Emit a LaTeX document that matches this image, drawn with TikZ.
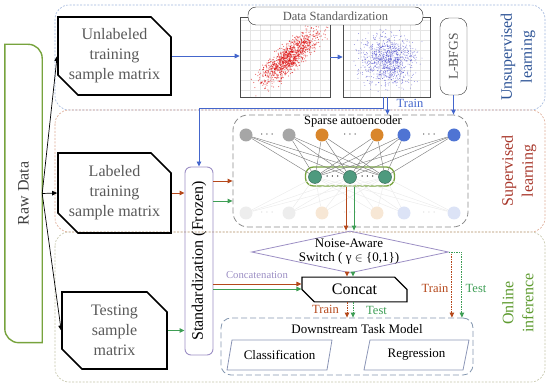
\documentclass[tikz,border=0pt]{standalone}
\usepackage{fontspec}
\setmainfont{Liberation Serif}
\usetikzlibrary{shapes.geometric, shapes.misc, arrows.meta, calc}

\definecolor{rawgreen}{HTML}{77A33D}
\definecolor{unsupblue}{HTML}{2F5597}
\definecolor{regblue}{HTML}{9FB4DC}
\definecolor{regred}{HTML}{DDA993}
\definecolor{regolive}{HTML}{C4C4A8}
\definecolor{arrblue}{HTML}{4466CC}
\definecolor{arrred}{HTML}{B5481B}
\definecolor{arrgreen}{HTML}{3E9E55}
\definecolor{supred}{HTML}{A8382C}
\definecolor{onlgreen}{HTML}{5E9B30}
\definecolor{frzpurple}{HTML}{9C8FC4}
\definecolor{txtgrey}{HTML}{595959}
\definecolor{nodegrey}{HTML}{A6A6A6}
\definecolor{nodeorange}{HTML}{D9862B}
\definecolor{nodeblue}{HTML}{4F74D3}
\definecolor{hidgreen}{HTML}{4E9A7E}
\definecolor{taskblue}{HTML}{8497B0}
\definecolor{scblue}{HTML}{3C3CC8}

\tikzset{
  region/.style={rounded corners=14pt, dash pattern=on 2pt off 1.5pt, line width=0.6pt},
  regionlabel/.style={rotate=90, align=center, font=\fontsize{16}{20}\selectfont},
  rawbox/.style={minimum width=37pt, minimum height=298pt, inner sep=0pt, text=black!75,
    font=\fontsize{16}{20}\selectfont},
  rawline/.style={draw=rawgreen, line width=1.4pt},
  matrixbox/.style={chamfered rectangle, chamfered rectangle corners={north east,south west},
    chamfered rectangle xsep=10pt, chamfered rectangle ysep=10pt, draw=black, line width=1.6pt,
    minimum width=105pt, minimum height=78pt, align=center, text=txtgrey, inner sep=1pt,
    font=\fontsize{16}{20}\selectfont},
  scatterbox/.style={draw=black!70, line width=0.6pt, minimum width=90pt, minimum height=80pt, inner sep=0pt},
  gridline/.style={draw=black!10, line width=0.3pt},
  dstdbox/.style={draw=black!85, fill=white, rounded corners=8pt, minimum width=175pt, minimum height=18pt,
    inner sep=0pt, text=txtgrey, font=\fontsize{12.5}{14}\selectfont},
  lbfgsbox/.style={draw=black!80, rounded corners=9pt, minimum width=27pt, minimum height=77pt,
    inner sep=0pt, text=txtgrey, font=\fontsize{13.5}{15}\selectfont},
  stdbox/.style={draw=frzpurple, line width=0.9pt, rounded corners=6pt, minimum width=28pt,
    minimum height=188pt, inner sep=0pt, font=\fontsize{16}{20}\selectfont},
  saebox/.style={draw=black!45, dash pattern=on 6pt off 3pt, line width=0.8pt, rounded corners=15pt,
    minimum width=235pt, minimum height=112pt},
  hidbox/.style={draw=rawgreen, line width=1.3pt, rounded corners=8pt, minimum width=89pt, minimum height=19pt},
  unit/.style={circle, minimum size=13pt, inner sep=0pt},
  dots/.style={inner sep=0pt, font=\fontsize{12}{12}\selectfont},
  edge/.style={draw=black!50, line width=0.45pt},
  fadededge/.style={draw=black!8, line width=0.45pt},
  switchbox/.style={diamond, draw=frzpurple, line width=0.8pt, minimum width=197pt, minimum height=42pt, inner sep=0pt},
  concatbox/.style={chamfered rectangle, chamfered rectangle corners={north east,south west},
    chamfered rectangle xsep=10pt, chamfered rectangle ysep=7pt, draw=black, line width=1.1pt,
    minimum width=105pt, minimum height=17pt, inner sep=0pt, font=\fontsize{16}{18}\selectfont},
  taskbox/.style={draw=taskblue, dash pattern=on 6pt off 3pt, line width=0.8pt, rounded corners=10pt,
    minimum width=252pt, minimum height=57pt},
  parabox/.style={trapezium, trapezium left angle=66, trapezium right angle=114, trapezium stretches body,
    draw=taskblue!70!frzpurple, line width=0.8pt, minimum width=105pt, minimum height=30pt, inner sep=1pt,
    font=\fontsize{13}{15}\selectfont},
  smalltext/.style={inner sep=1pt, font=\fontsize{12.5}{14}\selectfont},
  tip/.style={-{Triangle[length=5pt,width=4.5pt]}},
  blackarr/.style={tip, draw=black, line width=0.7pt},
  bluearr/.style={tip, draw=arrblue, line width=0.9pt},
  redarr/.style={tip, draw=arrred, line width=0.9pt},
  greenarr/.style={tip, draw=arrgreen, line width=0.9pt},
  reddash/.style={redarr, dash pattern=on 1.5pt off 1pt},
  greendash/.style={greenarr, dash pattern=on 1.5pt off 1pt},
}

\begin{document}
\begin{tikzpicture}[x=1pt,y=1pt]
    \useasboundingbox (0,0) rectangle (550,-387);
    % stages
    \draw[region, draw=regblue] (55,-5) rectangle (545,-110);
    \draw[region, draw=regred] (55,-110) rectangle (545,-232);
    \draw[region, draw=regolive] (55,-232) rectangle (545,-382);
    \node[regionlabel, text=unsupblue] (lblunsup) at (518,-57) {Unsupervised\\learning};
    \node[regionlabel, text=supred] (lblsup) at (519,-171) {Supervised\\learning};
    \node[regionlabel, text=onlgreen] (lblonline) at (518,-303) {Online\\inference};

    % raw data and sample matrices
    \node[rawbox] (raw) at (23.5,-193.5) {\rotatebox{90}{Raw Data}};
    \draw[rawline] (raw.north west) -- ([xshift=-14pt]raw.north east)
        arc[start angle=90, end angle=0, radius=14pt] -- (raw.south east)
        -- ([xshift=14pt]raw.south west) arc[start angle=270, end angle=180, radius=14pt] -- cycle;
    \node[matrixbox] (unl) at (114.5,-56) {Unlabeled\\training\\sample matrix};
    \node[matrixbox, minimum height=80pt] (lab) at (114.5,-193) {Labeled\\training\\sample matrix};
    \node[matrixbox, minimum height=77pt] (tst) at (114.5,-330.5) {Testing\\sample\\matrix};
    \draw[blackarr] (raw.east) -- (unl.west);
    \draw[blackarr] (raw.east) -- (lab.west);
    \draw[blackarr] (raw.east) -- (tst.west);

    % scatter plots
    \begin{scope}
        \clip (240,-97) rectangle (330,-17);
        \draw[step=10, gridline] (240,-97) grid (330,-17);
        \pgfmathsetseed{7}
        \foreach \i in {1,...,1100}{
            \pgfmathsetmacro{\ua}{rand+rand+rand}
            \pgfmathsetmacro{\ub}{rand+rand+rand}
            \fill[red!85!black, opacity=.55] ({290+14*\ua-3*\ub},{-57+12*\ua+5*\ub}) circle[radius=0.6];
        }
    \end{scope}
    \begin{scope}
        \clip (343,-97) rectangle (430,-17);
        \draw[step=10, gridline] (343,-97) grid (430,-17);
        \pgfmathsetseed{11}
        \foreach \i in {1,...,1000}{
            \pgfmathsetmacro{\ua}{rand+rand+rand}
            \pgfmathsetmacro{\ub}{rand+rand+rand}
            \fill[scblue, opacity=.55] ({387+13*\ua},{-60+12*\ub}) circle[radius=0.5];
        }
    \end{scope}
    \node[scatterbox] (sc1) at (285,-57) {};
    \node[scatterbox, minimum width=87pt] (sc2) at (386.5,-57) {};
    \node[dstdbox] (dstd) at (335.5,-16) {Data Standardization};
    \node[lbfgsbox] (lbfgs) at (453.5,-56.5) {\rotatebox{90}{L-BFGS}};
    \draw[bluearr] (unl.east) -- (sc1.west |- unl.east);
    \draw[bluearr] (sc1.east) -- (sc2.west);

    % frozen standardization
    \node[stdbox] (std) at (199,-261) {\rotatebox{90}{Standardization (Frozen)}};
    \draw[bluearr] ([xshift=-3.5pt]sc2.south) -- ++(0,-11) -| (std.north);
    \draw[redarr] (lab.east) -- (std.west |- lab.east);
    \draw[greenarr] (tst.east) -- (std.west |- tst.east);

    % sparse autoencoder
    \node[saebox] (sae) at (350.5,-171) {};
    \node[smalltext] (saelabel) at (353,-121.5) {Sparse autoencoder};
    \node[hidbox] (hid) at (350,-176.5) {};
    \foreach \x/\c [count=\k] in {246/nodegrey, 289/nodegrey, 322/nodeorange, 377/nodeorange, 404/nodeblue, 454/nodeblue}{
        \node[unit, fill=\c] (t\k) at (\x,-135) {};
        \node[unit, fill=\c!20] (b\k) at (\x,-213) {};
    }
    \foreach \x [count=\k] in {315,350,385}
        \node[unit, fill=hidgreen, draw=hidgreen!70!black, line width=0.5pt] (h\k) at (\x,-177) {};
    \foreach \i in {1,...,6}
        \foreach \j in {1,2,3}{
            \draw[edge] (t\i) -- (h\j);
            \draw[fadededge] (b\i) -- (h\j);
        }
    \foreach \x [count=\k] in {267,350,429}{
        \node[dots, text=black!75] (dt\k) at (\x,-135) {$\cdots$};
        \node[dots, text=black!15] (db\k) at (\x,-213) {$\cdots$};
    }
    \node[dots] (dh1) at (332.5,-177) {$\cdots$};
    \node[dots] (dh2) at (367.5,-177) {$\cdots$};
    \draw[bluearr] ([xshift=1pt]sc2.south) -- ([xshift=1pt]sc2.south |- sae.north);
    \node[smalltext, text=arrblue] (trainsae) at (410,-103) {Train};
    \draw[bluearr] (lbfgs.south) -- (lbfgs.south |- sae.north);
    \draw[redarr] (std.east |- 0,-181) -- (sae.west |- 0,-181);
    \draw[greenarr] (std.east |- 0,-201) -- (sae.west |- 0,-201);

    % switch and concatenation
    \node[switchbox] (sw) at (350,-252) {};
    \node[align=center, inner sep=0pt, font=\fontsize{13}{14}\selectfont] (swtext) at (349,-251.5)
        {Noise-Aware\\Switch ( γ $\in$ \{0,1\})};
    \draw[redarr] ([xshift=-4pt]hid.south) -- ([xshift=-4pt]sw.north);
    \draw[greenarr] ([xshift=4pt]hid.south) -- ([xshift=4pt]sw.north);
    \node[concatbox] (cc) at (354.5,-289.5) {Concat};
    \draw[reddash] ([xshift=-3pt]sw.south) -- ([xshift=-3pt]sw.south |- cc.north);
    \draw[greendash] ([xshift=3pt]sw.south) -- ([xshift=3pt]sw.south |- cc.north);
    \draw[redarr] (std.east |- 0,-284) -- (cc.west |- 0,-284);
    \draw[greenarr] (std.east |- 0,-289) -- (cc.west |- 0,-289);
    \node[inner sep=1pt, text=frzpurple, font=\fontsize{10.7}{12}\selectfont] (cclabel) at (257,-275) {Concatenation};

    % downstream task
    \node[taskbox] (dtm) at (347,-346.5) {};
    \node[inner sep=0pt, font=\fontsize{13}{15}\selectfont] (dtmlabel) at (357,-329) {Downstream Task Model};
    \node[parabox] (cls) at (279.5,-355) {Classification};
    \node[parabox] (reg) at (416.5,-355) {Regression};
    \draw[reddash] ([xshift=-3pt]sw.south |- cc.south) -- ([xshift=-3pt]sw.south |- dtm.north);
    \draw[greendash] ([xshift=3pt]sw.south |- cc.south) -- ([xshift=3pt]sw.south |- dtm.north);
    \node[smalltext, text=arrred] (traincc) at (325.5,-309) {Train};
    \node[smalltext, text=arrgreen] (testcc) at (376.5,-310) {Test};
    \draw[reddash] (sw.east) -| ([xshift=3pt]sw.east |- dtm.north);
    \draw[greendash] (sw.east) -| ([xshift=13pt]sw.east |- dtm.north);
    \node[smalltext, text=arrred] (trainsw) at (435,-288) {Train};
    \node[smalltext, text=arrgreen] (testsw) at (476,-288) {Test};
\end{tikzpicture}
\end{document}
